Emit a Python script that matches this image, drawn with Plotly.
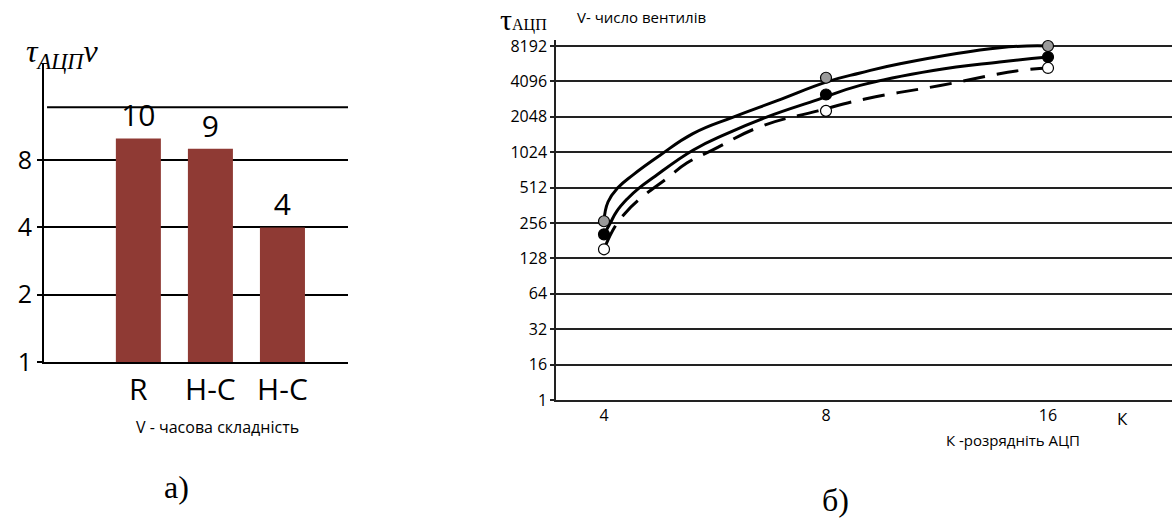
import numpy as np
import plotly.graph_objects as go

# ---- panel а): time complexity per converter type ----
bar_labels = ["R", "H-C", "H-C"]
bar_values = [10, 9, 4]
bar_ticks = [1, 2, 4, 8]
bar_top_line = 13.8

# ---- panel б): gate count vs ADC bit width ----
k_ticks = [4, 8, 16]
v_tick_values = [1, 16, 32, 64, 128, 256, 512, 1024, 2048, 4096, 8192]
v_tick_labels = [str(v) for v in v_tick_values]

k_points = [4, 8, 16]
gray_points = [265, 4400, 8700]
black_points = [205, 3170, 6600]
white_points = [153, 2300, 5330]

gray_curve_k = [4, 4.05, 4.18, 4.38, 4.76, 5.28, 6.0, 6.87, 8.06, 8.9, 10.08, 13.76, 16]
gray_curve_v = [265, 386, 512, 657, 960, 1475, 2048, 2810, 4096, 4830, 5790, 7920, 8900]

black_curve_k = [4, 4.08, 4.16, 4.30, 4.47, 4.66, 5.28, 5.87, 6.66, 7.8, 8.9, 11.18, 13.76, 16]
black_curve_v = [205, 256, 320, 410, 512, 620, 1065, 1475, 2048, 2870, 3790, 5080, 5990, 6600]

dash_curve_k = [4.02, 4.14, 4.27, 4.47, 4.88, 5.18, 5.61, 6.52, 7.8, 9.07, 11.43, 14.66, 16]
dash_curve_v = [165, 239, 309, 409, 620, 828, 1065, 1690, 2300, 2920, 3780, 5080, 5330]

W, H = 1173, 518
SANS = "Open Sans"
SERIF = "Liberation Serif"

tick_idx = np.arange(len(v_tick_values))
tick_log = np.log2(v_tick_values)


def v_pos(values):
    """Place values on the evenly spaced tick ladder of panel б)."""
    return np.interp(np.log2(np.asarray(values, dtype=float)), tick_log, tick_idx)


def px(x):
    return x / W


def py(y):
    return 1 - y / H


fig = go.Figure()

fig.add_trace(go.Bar(
    x=list(range(len(bar_values))), y=bar_values, width=0.625,
    marker=dict(color="#8f3a34", line=dict(width=0)),
    text=[str(v) for v in bar_values], textposition="outside",
    textfont=dict(family=SANS, size=30, color="black"),
    cliponaxis=False, xaxis="x", yaxis="y", showlegend=False,
))

curves = [
    (gray_curve_k, gray_curve_v, "solid"),
    (black_curve_k, black_curve_v, "solid"),
    (dash_curve_k, dash_curve_v, "22px,12px"),
]
for ks, vs, dash in curves:
    fig.add_trace(go.Scatter(
        x=ks, y=v_pos(vs), mode="lines",
        line=dict(color="black", width=3, dash=dash,
                  shape="spline", smoothing=1.3),
        xaxis="x2", yaxis="y2", showlegend=False,
    ))

markers = [
    (gray_points, "#9a9a9a"),
    (black_points, "black"),
    (white_points, "white"),
]
for vs, color in markers:
    fig.add_trace(go.Scatter(
        x=k_points, y=v_pos(vs), mode="markers",
        marker=dict(size=11, color=color, line=dict(color="black", width=1.2)),
        xaxis="x2", yaxis="y2", showlegend=False, cliponaxis=False,
    ))

# axis geometry (pixels)
L_X0, L_X1, L_Y0, L_Y1 = 44, 348, 63, 362
R_X0, R_X1, R_Y0, R_Y1 = 556, 1172, 40, 400

left_top_log2 = (L_Y1 - L_Y0) / 67.3
k_left = 2 - (604 - R_X0) / 222
k_right = 2 + (R_X1 - 604) / 222

fig.update_layout(
    width=W, height=H,
    margin=dict(l=0, r=0, t=0, b=0, autoexpand=False),
    paper_bgcolor="white", plot_bgcolor="white",
    font=dict(family=SANS, color="black"),
    xaxis=dict(
        domain=[px(L_X0), px(L_X1)], anchor="y", automargin=False,
        range=[-1.31, 2.91],
        tickvals=list(range(len(bar_labels))), ticktext=bar_labels,
        tickfont=dict(family=SANS, size=30), ticks="",
        showgrid=False, zeroline=False,
        showline=True, linecolor="black", linewidth=2,
    ),
    yaxis=dict(
        domain=[py(L_Y1), py(L_Y0)], anchor="x", automargin=False,
        type="log", range=[0, left_top_log2 * np.log10(2)],
        tickvals=bar_ticks, ticktext=[str(v) for v in bar_ticks],
        tickfont=dict(family=SANS, size=25),
        ticks="outside", ticklen=5, tickwidth=2, tickcolor="black",
        showgrid=True, gridcolor="black", gridwidth=2,
        zeroline=False, showline=True, linecolor="black", linewidth=2,
    ),
    xaxis2=dict(
        domain=[px(R_X0), px(R_X1)], anchor="y2", automargin=False,
        type="log", range=[k_left * np.log10(2), k_right * np.log10(2)],
        tickvals=k_ticks, ticktext=[str(k) for k in k_ticks],
        tickfont=dict(family=SANS, size=16), ticks="",
        showgrid=False, zeroline=False,
        showline=True, linecolor="#222", linewidth=1.5,
    ),
    yaxis2=dict(
        domain=[py(R_Y1), py(R_Y0)], anchor="x2", automargin=False,
        range=[0, 10 + (46 - R_Y0) / 35.4],
        tickvals=list(tick_idx), ticktext=v_tick_labels,
        tickfont=dict(family=SANS, size=16),
        ticks="outside", ticklen=4, tickwidth=1.5, tickcolor="#222",
        showgrid=True, gridcolor="#222", gridwidth=1.5,
        zeroline=False, showline=True, linecolor="#222", linewidth=1.5,
    ),
    shapes=[dict(
        type="line", xref="x domain", yref="y",
        x0=0.01, x1=1, y0=bar_top_line, y1=bar_top_line,
        line=dict(color="black", width=2),
    )],
)

annotations = [
    dict(x=px(24), y=py(53), xanchor="left", yanchor="middle",
         text="<i>τ<sub>АЦП</sub>ν</i>",
         font=dict(family=SERIF, size=32)),
    dict(x=px(217), y=py(427), xanchor="center", yanchor="middle",
         text="V - часова складність", font=dict(family=SANS, size=16)),
    dict(x=px(176), y=py(487), xanchor="center", yanchor="middle",
         text="а)", font=dict(family=SERIF, size=32)),
    dict(x=px(498), y=py(19), xanchor="left", yanchor="middle",
         text="<span style='font-size:30px'>τ</span>АЦП",
         font=dict(family=SERIF, size=16)),
    dict(x=px(575), y=py(17), xanchor="left", yanchor="middle",
         text="V- число вентилів", font=dict(family=SANS, size=15)),
    dict(x=px(1122), y=py(418), xanchor="center", yanchor="middle",
         text="К", font=dict(family=SANS, size=17)),
    dict(x=px(1013), y=py(440), xanchor="center", yanchor="middle",
         text="К -розрядніть АЦП", font=dict(family=SANS, size=15)),
    dict(x=px(835), y=py(500), xanchor="center", yanchor="middle",
         text="б)", font=dict(family=SERIF, size=32)),
]
for a in annotations:
    a.update(xref="paper", yref="paper", showarrow=False)
fig.update_layout(annotations=annotations)

fig.write_html("out.html")
